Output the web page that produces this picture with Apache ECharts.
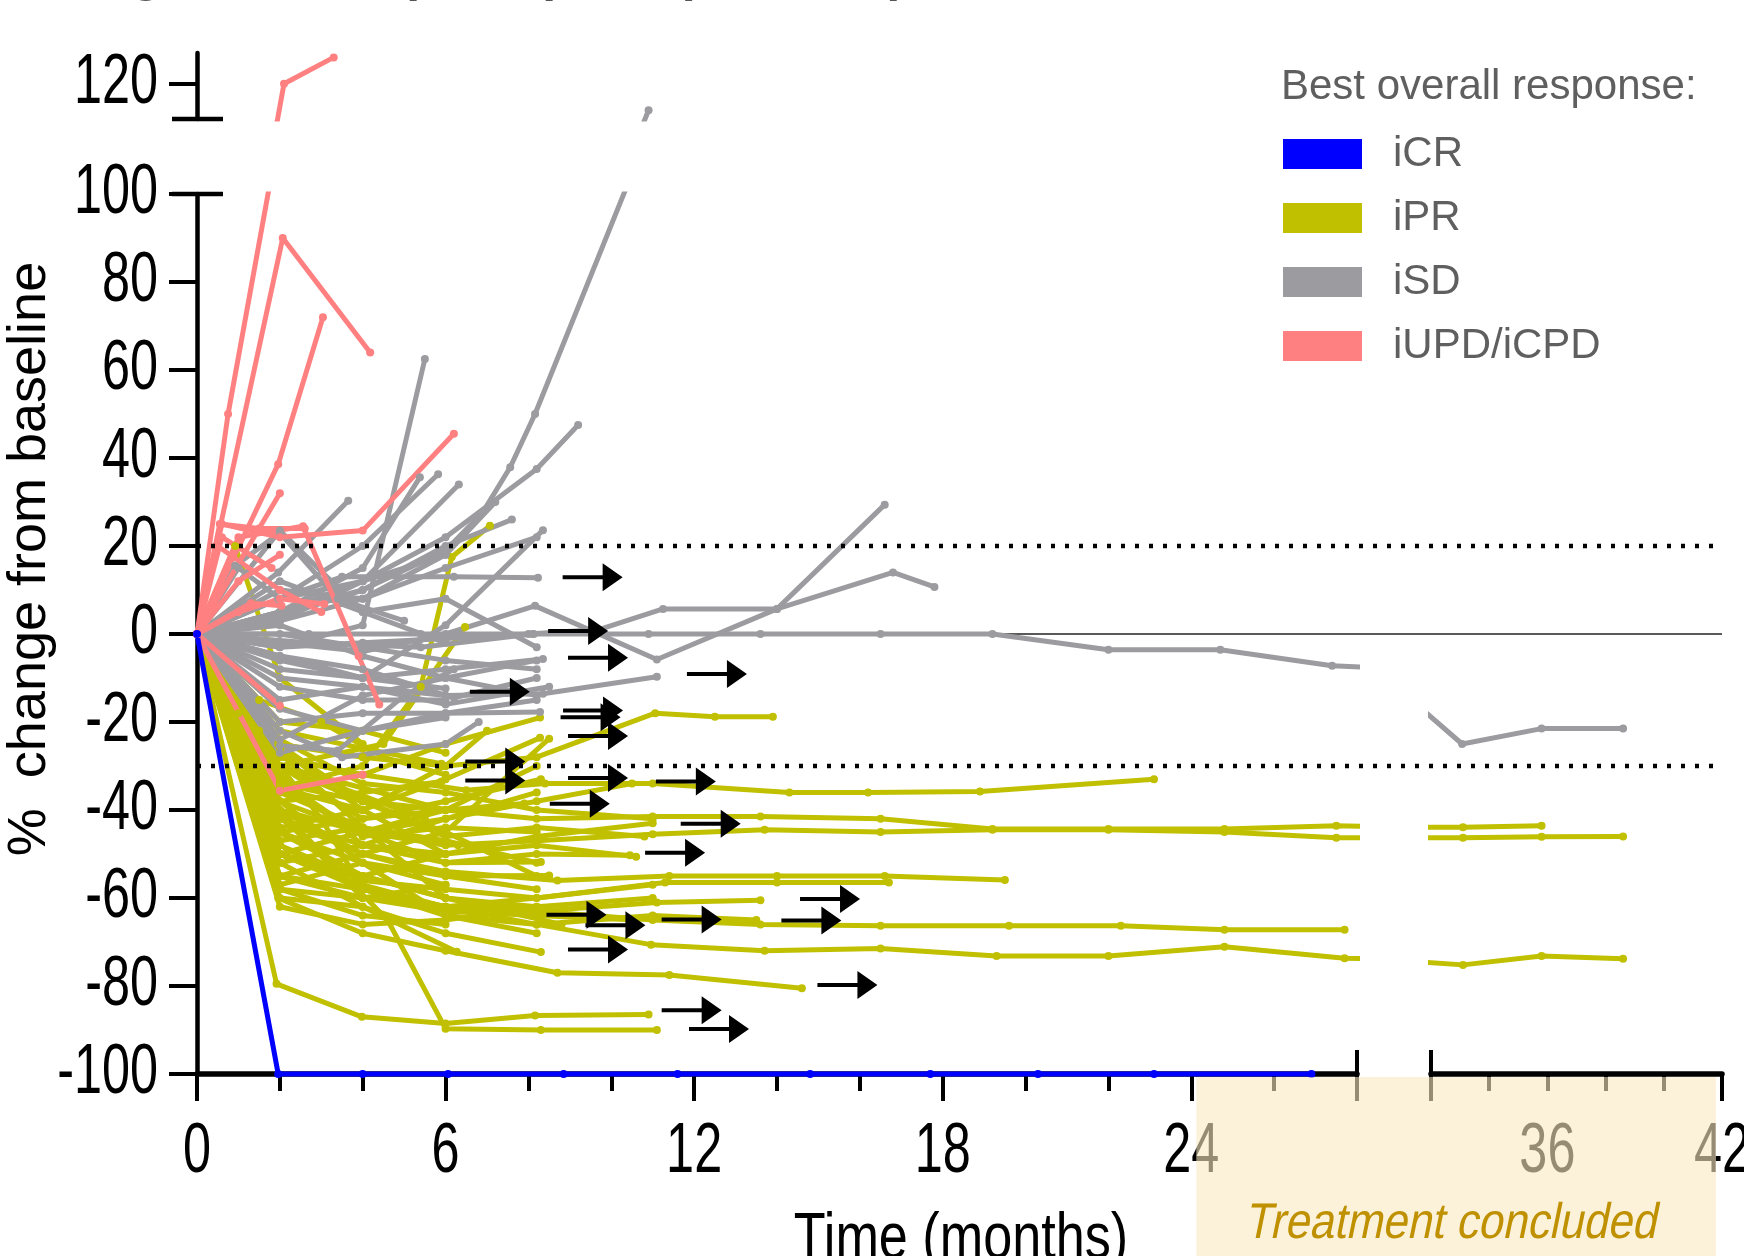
<!DOCTYPE html>
<html>
<head>
<meta charset="utf-8">
<title>Spider plot</title>
<style>
  html, body { margin: 0; padding: 0; background: #fff; }
  #chart { width: 1744px; height: 1256px; }
</style>
</head>
<body>
<div id="chart"></div>
<script src="https://cdn.jsdelivr.net/npm/echarts@6/dist/echarts.min.js"></script>
<script>
// each patient: [months, % change from baseline]
var iCR = [
  [[0,0],[1.96,-100],[4,-100],[6.06,-100],[8.85,-100],[11.6,-100],[14.8,-100],[17.7,-100],[20.3,-100],[23.1,-100],[26.9,-100]]
];

var iPR = [
  [[0,0],[1.96,-50],[4,-57],[6,-62],[8.2,-66],[10.96,-70.6],[13.7,-72],[16.5,-71.5],[19.3,-73.2],[22,-73.2],[24.8,-71.1],[27.7,-73.7],[30.3,-74],[33.1,-75.2],[35.8,-73.2],[38.6,-73.8]],
  [[0,0],[1.96,-38],[4,-45],[6,-48],[8.2,-47],[11,-45.5],[13.7,-44.5],[16.5,-45],[19.2,-44.5],[22,-44.5],[24.8,-45],[27.5,-46.3],[30.3,-46.3],[33.1,-46.3],[35.8,-46.1],[38.6,-46]],
  [[0,0],[1.96,-30],[4,-38],[6,-40],[8.2,-42],[11,-41.5],[13.6,-41.5],[16.5,-42],[19.2,-44.3],[22,-44.3],[24.8,-44.3],[27.5,-43.6],[30.3,-44],[33.1,-43.9],[35.8,-43.6]],
  [[0,0],[1.96,-45],[4,-55],[6,-60],[8.2,-63],[11,-65],[13.6,-66],[16.5,-66.3],[19.6,-66.3],[22.3,-66.3],[24.8,-67.2],[27.7,-67.2]],
  [[0,0],[1.96,-28],[4,-32],[6.5,-35.5],[8.4,-34],[11,-34],[14.3,-36],[16.2,-36],[18.9,-35.8],[23.1,-33]],
  [[0,0],[1.96,-42],[4,-50],[6,-54],[8.7,-56],[11.4,-55],[14,-55],[16.6,-55],[19.5,-55.9]],
  [[0,0],[1.96,-55],[4,-60],[6,-62],[8.2,-63],[11.1,-61],[13.6,-60.5]],
  [[0,0],[2,-48],[4,-56],[6,-58],[8.2,-60],[11.3,-56.5],[14,-56.5],[16.7,-56.5]],
  [[0,0],[1.96,-60],[4,-68],[6,-72],[8.7,-77],[11.4,-77.5],[14.6,-80.5]],
  [[0,0],[1.92,-79.5],[3.98,-87],[6,-88.5],[8.16,-86.7],[10.9,-86.5]],
  [[0,0],[2,-40],[4.6,-65],[6,-89.7],[8.3,-90],[11.1,-90]],
  [[0,0],[1.96,-25],[4,-28],[6,-30],[8.2,-28],[11.06,-18],[12.5,-18.8],[13.9,-18.8]],
  [[0,0],[2,-28],[4,-32],[6,-25],[8.28,-19]],
  [[0,0],[2,-35],[4,-40],[6,-33],[8.28,-23.6]],
  [[0,0],[2,-22],[4,-26],[5.9,-29.5]],
  [[0,0],[2,-38],[4,-36],[5.9,-33.5]],
  [[0,0],[2,-45],[4,-42],[6,-38],[8.3,-33]],
  [[0,0],[2,-40],[4,-45],[6,-42],[8.2,-38],[10.5,-34]],
  [[0,0],[2,-30],[4,-42],[6,-40],[7.9,-38.5]],
  [[0,0],[2,-50],[4,-55],[6,-50],[8.2,-46],[11,-43]],
  [[0,0],[2,-35],[4,-45],[6,-52],[8.2,-50],[10.45,-50.3]],
  [[0,0],[2,-55],[4,-58],[6,-62],[7.9,-63.5]],
  [[0,0],[2,-45],[4,-55],[6,-60],[8.8,-66]],
  [[0,0],[2,-58],[4,-60],[6,-63],[8.2,-64],[10.6,-65]],
  [[0,0],[2,-50],[4,-58],[6,-64],[8.2,-66],[11,-64],[13.5,-65]],
  [[0,0],[2,-52],[4,-62],[6,-68],[8.3,-72.3]],
  [[0,0],[2,-35],[4,-30],[5.4,-12],[6.15,17.5],[7.07,24.6]],
  [[0,0],[2,-30],[4.5,-25],[6.47,1.6]],
  [[0,0],[0.92,20],[2,-10],[4,-25]],
  [[0,0],[2,-32],[4,-48],[6,-52],[8.3,-51.8]],
  [[0,0],[2,-40],[4,-50],[6,-55],[8.5,-54.9]],
  [[0,0],[2,-30],[4,-35],[6,-40]],
  [[0,0],[2,-45],[4,-52],[6,-57]],
  [[0,0],[2,-36],[4,-44],[6.3,-48]],
  [[0,0],[1.5,-22],[3.5,-35],[5.5,-42]],
  [[0,0],[2,-60],[4,-62],[6.27,-72.2]],
  [[0,0],[2,-26],[4,-38],[6,-45],[8.2,-55]],
  [[0,0],[2,-50],[4,-45],[6,-40],[8.2,-30]],
  [[0,0],[2,-55],[4,-50],[6,-45],[8.5,-23.8]],
  [[0,0],[2,-42],[4,-48],[6,-50],[8.2,-48],[10.6,-50.6]],
  [[0,0],[2,-48],[4,-58],[6,-62],[8.2,-60],[11,-57]],
  [[0,0],[2,-24],[4,-34],[6,-36],[8.2,-40],[11,-42]],
  [[0,0],[2,-52],[4,-48],[6,-42],[8.2,-36]],
  [[0,0],[2,-38],[4,-52],[6,-64],[8.2,-68]],
  [[0,0],[2,-30],[3,-42],[4,-58]],
  [[0,0],[2,-58],[4,-64],[6,-66]],
  [[0,0],[2,-44],[4,-40],[6,-30],[7,-22]],
  [[0,0],[2,-20],[4,-22],[6,-27]],
  [[0,0],[1,-18],[2,-26],[4,-40],[6,-50]],
  [[0,0],[2,-62],[4,-66],[6,-65],[8.2,-62],[11,-60]],
  [[0,0],[1.5,-15],[3,-20],[4.5,-28],[6,-32]],
  [[0,0],[2,-33],[4,-46],[6,-44],[8.2,-45]],
  [[0,0],[2,-47],[4,-44],[6,-47],[8.2,-52]],
  [[0,0],[2,-41],[4,-60],[6,-57]],
  [[0,0],[2,-57],[4,-52],[6,-55],[8.2,-58]],
  [[0,0],[2,-27],[4,-44],[6,-60],[8.2,-62]],
  [[0,0],[2,-34],[4,-38],[6,-46],[8.2,-44],[10.8,-46]]
];

var iSD = [
  [[0,0],[2,4],[4,10],[6,19],[6.9,27.7],[7.56,37.9],[8.16,50],[10.9,114]],
  [[0,0],[2,-3],[4,2],[5.5,62.5]],
  [[0,0],[2,5],[4,12],[6,22],[8.2,37.5],[9.2,47.5]],
  [[0,0],[2,-5],[4,-10],[6,2],[8.35,23.6]],
  [[0,0],[2,-2],[4,-4],[6,0],[8.16,6.4],[11.1,-5.8],[14,5.7],[16.6,29.4]],
  [[0,0],[2,-3],[4,-2],[6,-1],[8,0],[9.7,1],[11.25,5.7],[14,5.7],[16.8,14],[17.8,10.7]],
  [[0,0],[2.7,0],[5.4,0],[8.13,0],[10.9,0],[13.6,0],[16.5,0],[19.2,0],[22,-3.6],[24.7,-3.6],[27.4,-7.2],[30.2,-8.5],[33.07,-25],[35.8,-21.5],[38.6,-21.5]],
  [[0,0],[2.7,-2],[5.4,-3],[8.1,0]],
  [[0,0],[2,-6],[4,-10],[6,-8],[8.35,-5.7]],
  [[0,0],[2,-10],[4,-12],[6,-14],[8.35,-13.6],[11.1,-9.7]],
  [[0,0],[2,-8],[4,-10],[6,-12.4]],
  [[0,0],[2,-20],[4,-18],[6,-18],[8.28,-17.7]],
  [[0,0],[2,5],[4,15],[5.38,35.6]],
  [[0,0],[2,8],[4,20],[5.82,36.3]],
  [[0,0],[2,3],[4,12],[6.32,34]],
  [[0,0],[1.96,8],[3.5,13],[6.2,13],[8.23,12.8]],
  [[0,0],[2,23.5],[4,5],[6,-2]],
  [[0,0],[1.96,14],[3.65,30.3]],
  [[0,0],[0.92,15.5],[2,23],[3.4,8],[5,3]],
  [[0,0],[2,10],[4,8],[6,15],[8.2,22]],
  [[0,0],[1,15],[2,8],[4,12],[6,18]],
  [[0,0],[2,-12],[4,-15],[6,-15]],
  [[0,0],[2,-25.4],[3.4,-26.5],[5,-14],[6.2,-8]],
  [[0,0],[2,-22],[3.5,-28],[6,-25],[6.8,-20]],
  [[0,0],[2,12],[4,5],[6,8],[8.2,-3]],
  [[0,0],[2,-5],[4,-8],[6.2,-14.5],[8.2,-10]],
  [[0,0],[2,2],[4,-5],[6,-10],[8.2,-14]],
  [[0,0],[2,3],[4,8],[6,18],[7.2,30]],
  [[0,0],[2,5],[4,10],[6,20],[7.6,26]],
  [[0,0],[2,0],[4,-3],[6,-6],[8.2,-8]],
  [[0,0],[2,-17],[4,-22],[6,-18],[8.2,-15]],
  [[0,0],[2,-15],[4,-12],[6,-16],[8.5,-12]],
  [[0,0],[2,-27],[4,-22],[6,-19]],
  [[0,0],[2,-24],[4,-14],[6,-10],[8.2,-6]]
];

var iUPD = [
  [[0,0],[0.75,50],[2.1,120],[3.3,126]],
  [[0,0],[2.07,90],[4.18,64]],
  [[0,0],[1.96,38.6],[3.04,72]],
  [[0,0],[2,32]],
  [[0,0],[0.6,25],[2,22],[4,23.5],[6.2,45.5]],
  [[0,0],[1,22],[2.56,24.5],[3.9,-5],[4.4,-16]],
  [[0,0],[2,-16.3]],
  [[0,0],[2,-35.6],[4,-32]],
  [[0,0],[1,5],[2,8],[3.07,6.8]],
  [[0,0],[1.3,7],[2.04,6.4]],
  [[0,0],[0.55,25],[1.5,24],[2.6,24]],
  [[0,0],[0.6,22],[1.8,15]],
  [[0,0],[1,12],[2,18]],
  [[0,0],[0.5,20],[2,10],[3,5]]
];

// still on treatment (arrow marks)
var ongoing = [
  [9.55,12.9],[9.2,0.7],[9.68,-5.4],[12.55,-9.1],[7.31,-13.1],[9.56,-17.4],[9.5,-18.9],
  [9.68,-23.2],[7.2,-29],[7.2,-33.3],[9.68,-32.7],[11.8,-33.5],[9.24,-38.6],[12.4,-43.1],
  [11.54,-49.7],[15.28,-60.2],[9.16,-63.8],[10.1,-66.2],[11.94,-64.9],[14.83,-65.1],
  [9.68,-71.7],[15.7,-79.8],[11.94,-85.5],[12.6,-89.8]
];

var yTickLabels = [-100, -80, -60, -40, -20, 0, 20, 40, 60, 80, 100];
var yLabelTop = [120];
var xLabelsLeft = [0, 6, 12, 18, 24];
var xLabelsRight = [36, 42];
var dottedLevels = [20, -30];
var zeroLevel = 0;

// layout
var X0 = 197, LW = 1160;      // 0..28 months
var RX0 = 1431, RW = 291;     // 32..42 months
var YT = 194, YH = 880;       // -100..100
var UT = 53, UH = 66;         // 112..127
var PXM = LW / 28;

var SANS = "'Liberation Sans', Arial, sans-serif";

var colors = { 'iCR': '#0000FF', 'iPR': '#C0C000', 'iSD': '#9C9CA0', 'iUPD/iCPD': '#FF8080' };

var series = [];

function mkLine(name, pts, xi, yi, clip) {
    return {
        type: 'line', name: name, xAxisIndex: xi, yAxisIndex: yi,
        data: pts, symbol: 'circle', symbolSize: 8, showSymbol: true,
        lineStyle: { color: colors[name], width: 5 },
        itemStyle: { color: colors[name] },
        clip: clip, silent: true
    };
}

function addGroup(name, list) {
    list.forEach(function (pts) {
        var maxX = 0, maxY = -999;
        pts.forEach(function (p) { if (p[0] > maxX) maxX = p[0]; if (p[1] > maxY) maxY = p[1]; });
        series.push(mkLine(name, pts, 0, 0, maxX > 28 || maxY > 100));
        if (maxX > 28) series.push(mkLine(name, pts, 2, 1, true));
        if (maxY > 112) series.push(mkLine(name, pts, 4, 2, true));
    });
}

addGroup('iPR', iPR);
addGroup('iSD', iSD);
addGroup('iUPD/iCPD', iUPD);
addGroup('iCR', iCR);

series.push({
    type: 'scatter', xAxisIndex: 0, yAxisIndex: 0, data: ongoing, silent: true, z: 6,
    symbol: 'path://M0,12 L40,12 L40,0 L60,14 L40,28 L40,16 L0,16 Z',
    symbolSize: [60, 28], symbolKeepAspect: false,
    itemStyle: { color: '#000', opacity: 1 }
});

// reference lines in an overlay grid spanning both x segments
var ovEnd = (1713 - X0) / (RX0 + RW - X0);
series.push({
    type: 'line', xAxisIndex: 5, yAxisIndex: 3, silent: true, z: 1, symbol: 'none',
    data: [[0, zeroLevel], [1, zeroLevel]],
    lineStyle: { color: '#222', width: 1.6 }
});
dottedLevels.forEach(function (v) {
    series.push({
        type: 'line', xAxisIndex: 5, yAxisIndex: 3, silent: true, z: 5, symbol: 'none',
        data: [[0, v], [ovEnd, v]],
        lineStyle: { color: '#000', width: 4.5, type: [4, 10] }
    });
});

var tickLine = { color: '#000', width: 4 };
var noBounds = { outerBoundsMode: 'none', containLabel: false };

var option = {
    animation: false,
    backgroundColor: '#fff',
    title: [{
        text: 'Best overall response:', left: 1276, top: 57,
        textStyle: { color: '#5f5f5f', fontSize: 42, fontWeight: 'normal', fontFamily: SANS, lineHeight: 50 }
    }],
    legend: {
        orient: 'vertical', left: 1278, top: 128, selectedMode: false,
        data: ['iCR', 'iPR', 'iSD', 'iUPD/iCPD'],
        icon: 'rect', itemWidth: 79, itemHeight: 30, itemGap: 22,
        itemStyle: { borderWidth: 0 },
        textStyle: { color: '#5f5f5f', fontSize: 42, fontFamily: SANS, padding: [0, 0, 0, 26] }
    },
    grid: [
        Object.assign({ left: X0, top: YT, width: LW, height: YH }, noBounds),
        Object.assign({ left: RX0, top: YT, width: RW, height: YH }, noBounds),
        Object.assign({ left: X0, top: UT, width: LW, height: UH }, noBounds),
        Object.assign({ left: X0, top: YT, width: RX0 + RW - X0, height: YH }, noBounds)
    ],
    xAxis: [
        { type: 'value', gridIndex: 0, position: 'bottom', min: 0, max: 28, interval: 2,
          axisLine: { show: true, onZero: false, lineStyle: { color: '#000', width: 5.5 } },
          axisTick: { show: true, length: 17, lineStyle: tickLine },
          axisLabel: { show: false }, splitLine: { show: false } },
        { type: 'value', gridIndex: 0, position: 'bottom', offset: 0, min: 0, max: 28,
          axisLine: { show: false, onZero: false },
          axisTick: { show: true, customValues: xLabelsLeft, length: 27, lineStyle: tickLine },
          axisLabel: { show: false }, splitLine: { show: false } },
        { type: 'value', gridIndex: 1, position: 'bottom', min: 32, max: 42, interval: 2,
          axisLine: { show: true, onZero: false, lineStyle: { color: '#000', width: 5.5 } },
          axisTick: { show: true, length: 17, lineStyle: tickLine },
          axisLabel: { show: false }, splitLine: { show: false } },
        { type: 'value', gridIndex: 1, position: 'bottom', offset: 0, min: 32, max: 42,
          axisLine: { show: false, onZero: false },
          axisTick: { show: true, customValues: [42], length: 27, lineStyle: tickLine },
          axisLabel: { show: false }, splitLine: { show: false } },
        { type: 'value', gridIndex: 2, min: 0, max: 28, show: false },
        { type: 'value', gridIndex: 3, min: 0, max: 1, show: false }
    ],
    yAxis: [
        { type: 'value', gridIndex: 0, position: 'left', min: -100, max: 100, interval: 20,
          axisLine: { show: true, onZero: false, lineStyle: { color: '#000', width: 4.5 } },
          axisTick: { show: true, length: 28, lineStyle: tickLine },
          axisLabel: { show: false }, splitLine: { show: false } },
        { type: 'value', gridIndex: 1, min: -100, max: 100, show: false },
        { type: 'value', gridIndex: 2, position: 'left', min: 112, max: 127,
          axisLine: { show: true, onZero: false, lineStyle: { color: '#000', width: 4.5 } },
          axisTick: { show: true, customValues: yLabelTop, length: 28, lineStyle: tickLine },
          axisLabel: { show: false }, splitLine: { show: false } },
        { type: 'value', gridIndex: 3, min: -100, max: 100, show: false }
    ],
    graphic: [
        // cropped heading (only descenders visible)
        { type: 'text', x: 57, y: -23, z: 50,
          style: { text: 'Target lesion spider plots (iRECIST)', font: 'bold 50px ' + SANS, fill: '#555', textAlign: 'left', textVerticalAlign: 'middle' } },
        { type: 'text', x: 30, y: 559, rotation: Math.PI / 2, z: 50,
          style: { text: '%  change from baseline', font: '54px ' + SANS, fill: '#000', textAlign: 'center', textVerticalAlign: 'middle' } },
        { type: 'text', x: 961, y: 1240, scaleX: 0.815, z: 50,
          style: { text: 'Time (months)', font: '64px ' + SANS, fill: '#000', textAlign: 'center', textVerticalAlign: 'middle' } },
        // axis break marks
        { type: 'line', z: 50, shape: { x1: 172, y1: YT, x2: 223, y2: YT }, style: { stroke: '#000', lineWidth: 4.5 } },
        { type: 'line', z: 50, shape: { x1: 172, y1: UT + UH, x2: 223, y2: UT + UH }, style: { stroke: '#000', lineWidth: 4.5 } },
        { type: 'line', z: 50, shape: { x1: X0 + LW, y1: YT + YH - 24, x2: X0 + LW, y2: YT + YH + 27 }, style: { stroke: '#000', lineWidth: 4 } },
        { type: 'line', z: 50, shape: { x1: RX0, y1: YT + YH - 24, x2: RX0, y2: YT + YH + 27 }, style: { stroke: '#000', lineWidth: 4 } },
        // treatment concluded shading
        { type: 'rect', z: 100, shape: { x: X0 + 24 * PXM + 5, y: YT + YH + 3, width: RX0 + RW - 6 - (X0 + 24 * PXM + 5), height: 1256 - (YT + YH + 3) },
          style: { fill: 'rgba(250,233,192,0.6)' } },
        { type: 'text', x: 1453, y: 1224, scaleX: 0.88, skewX: -0.2, z: 101,
          style: { text: 'Treatment concluded', font: '50px ' + SANS, fill: '#BF9000', textAlign: 'center', textVerticalAlign: 'middle' } }
    ],
    series: series
};

var chartDom = document.getElementById('chart');
var myChart = echarts.init(chartDom);
option && myChart.setOption(option);

// tick labels: tall narrow text placed through the axes' own scales
var labelFont = '70px ' + SANS;
var labels = [];
yTickLabels.forEach(function (v) {
    labels.push({ type: 'text', x: X0 - 39, y: myChart.convertToPixel({ yAxisIndex: 0 }, v), scaleX: 0.72, z: 50,
        style: { text: String(v), font: labelFont, fill: '#000', textAlign: 'right', textVerticalAlign: 'middle' } });
});
yLabelTop.forEach(function (v) {
    labels.push({ type: 'text', x: X0 - 39, y: myChart.convertToPixel({ yAxisIndex: 2 }, v), scaleX: 0.72, z: 50,
        style: { text: String(v), font: labelFont, fill: '#000', textAlign: 'right', textVerticalAlign: 'middle' } });
});
xLabelsLeft.forEach(function (v) {
    labels.push({ type: 'text', x: myChart.convertToPixel({ xAxisIndex: 0 }, v), y: YT + YH + 79, scaleX: 0.72, z: 50,
        style: { text: String(v), font: labelFont, fill: '#000', textAlign: 'center', textVerticalAlign: 'middle' } });
});
xLabelsRight.forEach(function (v) {
    labels.push({ type: 'text', x: myChart.convertToPixel({ xAxisIndex: 2 }, v), y: YT + YH + 79, scaleX: 0.72, z: 50,
        style: { text: String(v), font: labelFont, fill: '#000', textAlign: 'center', textVerticalAlign: 'middle' } });
});
myChart.setOption({ graphic: option.graphic.concat(labels) });
</script>
</body>
</html>
